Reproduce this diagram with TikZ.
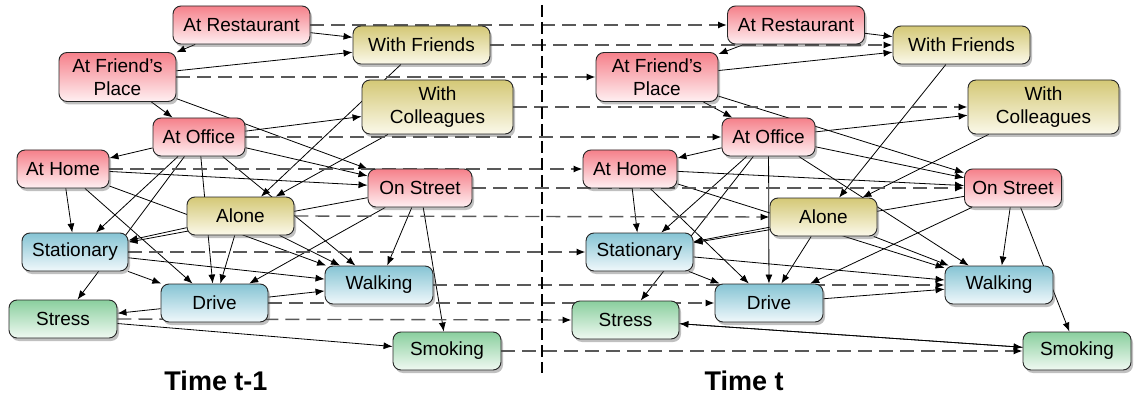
\documentclass[tikz,border=0pt]{standalone}
\usepackage{fontspec}
\setmainfont{Liberation Sans}
\usetikzlibrary{arrows.meta,shadows}
\pgfdeclarelayer{background}
\pgfdeclarelayer{edges}
\pgfsetlayers{background,edges,main}

% node fills (top / bottom of the vertical gradient)
\definecolor{locTop}{RGB}{245,128,138}
\definecolor{locBot}{RGB}{255,240,242}
\definecolor{socTop}{RGB}{212,200,118}
\definecolor{socBot}{RGB}{251,249,234}
\definecolor{actTop}{RGB}{134,196,212}
\definecolor{actBot}{RGB}{240,248,251}
\definecolor{hltTop}{RGB}{138,207,158}
\definecolor{hltBot}{RGB}{240,249,242}

\tikzset{
  state/.style={draw=black!85, line width=0.9pt, rounded corners=8pt,
    align=center, inner sep=0pt,
    font=\fontsize{19}{23}\selectfont,
    drop shadow={shadow xshift=2pt, shadow yshift=-3pt, fill=black!70, opacity=0.35}},
  loc/.style={state, top color=locTop, bottom color=locBot},
  soc/.style={state, top color=socTop, bottom color=socBot},
  act/.style={state, top color=actTop, bottom color=actBot},
  hlt/.style={state, top color=hltTop, bottom color=hltBot},
  sz/.style 2 args={minimum width=#1pt, minimum height=#2pt},
  arr/.style={line width=0.8pt, -{Latex[length=9pt,width=7pt]}},
  tarr/.style={line width=1.4pt, black!65, dash pattern=on 14pt off 7pt,
    -{Latex[length=9pt,width=7pt,black]}},
  divider/.style={line width=2pt, dash pattern=on 12pt off 5pt},
  slicetitle/.style={font=\fontsize{27}{30}\selectfont\bfseries}
}

\begin{document}
\begin{tikzpicture}[x=1pt, y=-1pt]
\useasboundingbox (0,0) rectangle (1134,398);
\begin{pgfonlayer}{background}
  \fill[white] (0,0) rectangle (1134,398);
\end{pgfonlayer}

% ---- slice t-1 ----
\node[loc, sz={137}{38}] (restA)   at (241.5,25)  {At Restaurant};
\node[loc, sz={117}{49}] (friendA) at (117.5,77) {At Friend's\\Place};
\node[loc, sz={92}{38}]  (officeA) at (199,137)   {At Office};
\node[loc, sz={92}{38}]  (homeA)   at (63,169)    {At Home};
\node[soc, sz={137}{38}] (wfriA)   at (421.5,45)  {With Friends};
\node[soc, sz={151}{54}] (wcolA)   at (437.5,107) {With\\Colleagues};
\node[loc, sz={104}{38}] (streetA) at (420,188)   {On Street};
\node[soc, sz={107}{38}] (aloneA)  at (240.5,216) {Alone};
\node[act, sz={106}{38}] (statA)   at (75,252)    {Stationary};
\node[act, sz={107}{38}] (driveA)  at (214.5,303) {Drive};
\node[act, sz={108}{38}] (walkA)   at (379,285)   {Walking};
\node[hlt, sz={108}{38}] (stressA) at (63,319)    {Stress};
\node[hlt, sz={108}{38}] (smokeA)  at (447,351)   {Smoking};

% ---- slice t ----
\node[loc, sz={137}{38}] (restB)   at (796,25)    {At Restaurant};
\node[loc, sz={122}{49}] (friendB) at (657,77)  {At Friend's\\Place};
\node[loc, sz={93}{38}]  (officeB) at (768.5,137) {At Office};
\node[loc, sz={94}{38}]  (homeB)   at (630,169)   {At Home};
\node[soc, sz={137}{38}] (wfriB)   at (961.5,45)  {With Friends};
\node[soc, sz={151}{54}] (wcolB)   at (1043.5,107) {With\\Colleagues};
\node[loc, sz={97}{38}]  (streetB) at (1013,188)  {On Street};
\node[soc, sz={107}{38}] (aloneB)  at (823.5,217) {Alone};
\node[act, sz={107}{38}] (statB)   at (639.5,252) {Stationary};
\node[act, sz={108}{38}] (driveB)  at (769,303) {Drive};
\node[act, sz={108}{38}] (walkB)   at (999,285)   {Walking};
\node[hlt, sz={107}{38}] (stressB) at (625.5,320) {Stress};
\node[hlt, sz={108}{38}] (smokeB)  at (1077,351)  {Smoking};

% slice labels and separator
\node[slicetitle] (titleA) at (216,381) {Time t-1};
\node[slicetitle] (titleB) at (744,381) {Time t};
\coordinate (sepTop) at (542,5);
\coordinate (sepBot) at (542,373);
\draw[divider] (sepTop) -- (sepBot);

\begin{pgfonlayer}{edges}
  % dependencies inside each time slice
  \foreach \s in {A,B}{
    \draw[arr] (rest\s) -- (wfri\s);
    \draw[arr] (rest\s) -- (friend\s);
    \draw[arr] (friend\s) -- (wfri\s);
    \draw[arr] (friend\s) -- (office\s);
    \draw[arr] (friend\s) -- (street\s);
    \draw[arr] (office\s) -- (wcol\s);
    \draw[arr] (office\s) -- (home\s);
    \draw[arr] (office\s) -- (street\s);
    \draw[arr] (office\s) -- (stat\s);
    \draw[arr] (office\s) -- (stress\s);
    \draw[arr] (office\s) -- (drive\s);
    \draw[arr] (office\s) -- (walk\s);
    \draw[arr] (home\s) -- (street\s);
    \draw[arr] (home\s) -- (stat\s);
    \draw[arr] (home\s) -- (drive\s);
    \draw[arr] (home\s) -- (walk\s);
    \draw[arr] (wfri\s) -- (alone\s);
    \draw[arr] (wcol\s) -- (alone\s);
    \draw[arr] (alone\s) -- (stat\s);
    \draw[arr] (alone\s) -- (drive\s);
    \draw[arr] (alone\s) -- (walk\s);
    \draw[arr] (street\s) -- (stat\s);
    \draw[arr] (street\s) -- (drive\s);
    \draw[arr] (street\s) -- (walk\s);
    \draw[arr] (street\s) -- (smoke\s);
    \draw[arr] (stat\s) -- (drive\s);
    \draw[arr] (stat\s) -- (walk\s);
    \draw[arr] (drive\s) -- (walk\s);
    \draw[arr] (stress\s) -- (smoke\s);
  }
  \draw[arr] (driveA) -- (stressA);
  \draw[arr] (smokeB) -- (stressB);

  % temporal links t-1 -> t
  \foreach \n in {rest,friend,office,home,wfri,wcol,street,alone,stat,drive,walk,stress,smoke}{
    \draw[tarr] (\n A.east) -- (\n B.west);
  }
\end{pgfonlayer}
\end{tikzpicture}
\end{document}
